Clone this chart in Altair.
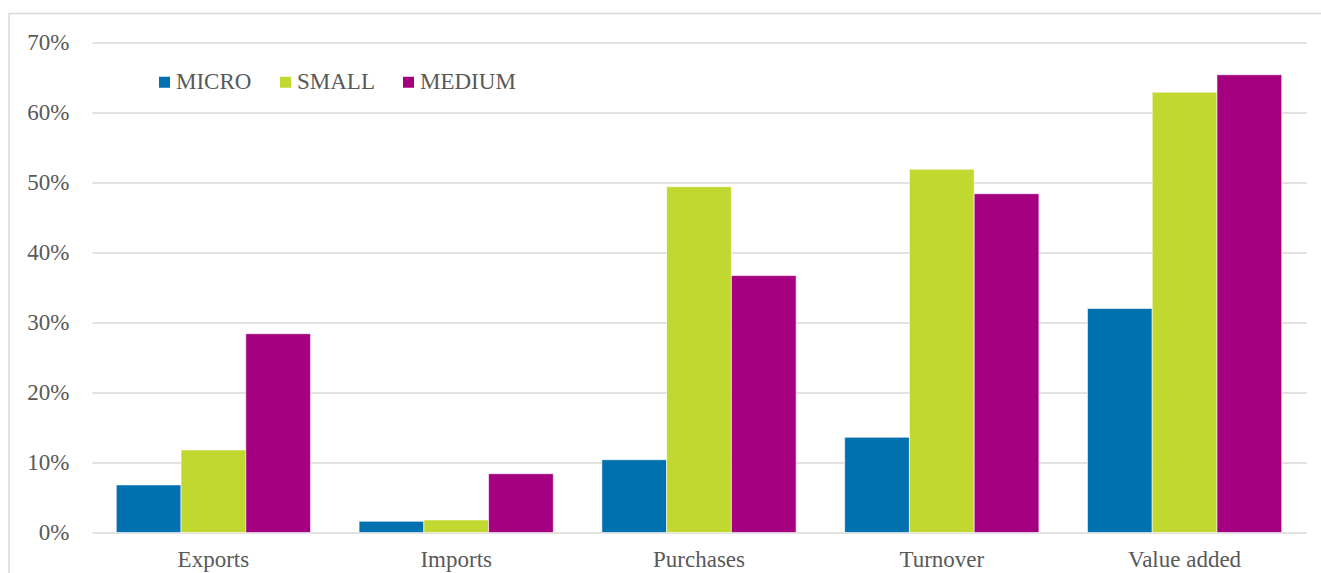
import altair as alt
import pandas as pd

categories = ["Exports", "Imports", "Purchases", "Turnover", "Value added"]
sizes = ["MICRO", "SMALL", "MEDIUM"]
micro = [6.8, 1.6, 10.4, 13.6, 32.0]
small = [11.8, 1.8, 49.4, 51.9, 62.9]
medium = [28.4, 8.4, 36.7, 48.4, 65.4]
colors = ["#0070ae", "#c1d831", "#a4007f"]
y_ticks = [0, 0.1, 0.2, 0.3, 0.4, 0.5, 0.6, 0.7]

rows = []
for s, vals in zip(sizes, [micro, small, medium]):
    for c, v in zip(categories, vals):
        rows.append({"category": c, "size": s, "value": v / 100})
df = pd.DataFrame(rows)

font = "Liberation Serif"
gray = "#595959"
grid = "#d9d9d9"

bars = alt.Chart(df).mark_bar(stroke="white", strokeWidth=0.6).encode(
    x=alt.X(
        "category:N", sort=categories, title=None,
        scale=alt.Scale(paddingInner=0.2, paddingOuter=0.1),
        axis=alt.Axis(labelAngle=0, ticks=False, domain=False,
                      labelPadding=16, grid=False),
    ),
    xOffset=alt.XOffset("size:N", sort=sizes,
                        scale=alt.Scale(paddingInner=0, paddingOuter=0)),
    y=alt.Y(
        "value:Q", title=None,
        scale=alt.Scale(domain=[0, 0.7], nice=False),
        axis=alt.Axis(values=y_ticks, format=".0%", ticks=False,
                      domain=False, labelPadding=23, grid=True,
                      gridColor=grid, gridWidth=1.5),
    ),
    color=alt.Color(
        "size:N", sort=sizes,
        scale=alt.Scale(domain=sizes, range=colors),
        legend=alt.Legend(
            title=None, orient="none", legendX=55, legendY=28,
            direction="horizontal", symbolType="square", symbolSize=121,
            symbolStrokeWidth=0, symbolOffset=6, labelOffset=0,
            columnPadding=16, padding=0,
        ),
    ),
)

frame = alt.Chart(pd.DataFrame({"a": [0]})).mark_rect(
    filled=False, stroke=grid, strokeWidth=1.5
).encode(
    x=alt.value(-83), x2=alt.value(1400),
    y=alt.value(-29), y2=alt.value(700),
)

chart = alt.layer(frame, bars).properties(
    width=1214, height=490,
    background="white",
    autosize=alt.AutoSizeParams(type="none"),
    padding={"left": 92, "top": 42.5, "right": 15, "bottom": 40.5},
).configure(
    font=font,
).configure_view(
    stroke="transparent", strokeWidth=0,
).configure_axis(
    labelFont=font, labelFontSize=23, labelColor=gray,
).configure_legend(
    labelFont=font, labelFontSize=23, labelColor=gray,
)

chart.save("out.html", embed_options={"renderer": "svg", "actions": False})
